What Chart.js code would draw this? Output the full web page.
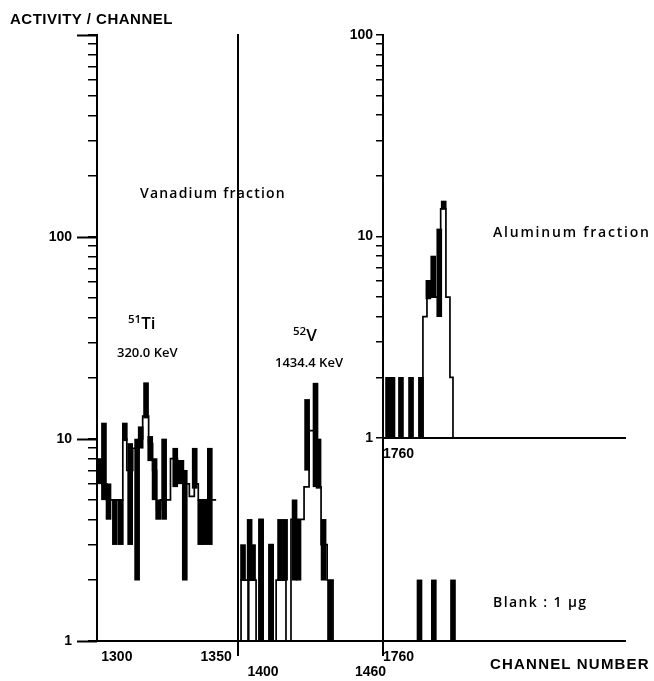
<!DOCTYPE html>
<html>
<head>
<meta charset="utf-8">
<script src="https://cdn.jsdelivr.net/npm/chart.js@4.4.0/dist/chart.umd.min.js"></script>
<style>
  body { margin: 0; width: 654px; height: 681px; background: #fff; position: relative; overflow: hidden;
         font-family: "Liberation Sans", Arial, sans-serif; color: #000; }
  canvas { position: absolute; }
  .t { position: absolute; white-space: nowrap; line-height: 1; }
  .caps { font-weight: bold; }
  .ann { font-family: "Open Sans", sans-serif; font-weight: 600; }
  sup { font-size: 0.68em; vertical-align: 0; position: relative; top: -0.55em; }
</style>
</head>
<body>
<canvas id="ti" width="240" height="681" style="left:0;top:0"></canvas>
<canvas id="va" width="220" height="681" style="left:200px;top:0"></canvas>
<canvas id="al" width="324" height="470" style="left:330px;top:0"></canvas>
<canvas id="bl" width="324" height="281" style="left:330px;top:400px"></canvas>

<div class="t caps" style="left:10px;top:11px;font-size:15px;letter-spacing:0.5px">ACTIVITY / CHANNEL</div>
<div class="t ann" style="left:140px;top:186px;font-size:14px;letter-spacing:1.2px">Vanadium fraction</div>
<div class="t ann" style="left:128px;top:314px;font-size:17px"><sup>51</sup>Ti</div>
<div class="t ann" style="left:117px;top:346px;font-size:13px">320.0 KeV</div>
<div class="t ann" style="left:293px;top:326px;font-size:17px"><sup>52</sup>V</div>
<div class="t ann" style="left:275px;top:356px;font-size:13px">1434.4 KeV</div>
<div class="t ann" style="left:493px;top:225px;font-size:14px;letter-spacing:1.8px">Aluminum fraction</div>
<div class="t ann" style="left:493px;top:595px;font-size:14px;letter-spacing:1.4px">Blank : 1 µg</div>
<div class="t caps" style="left:490px;top:656px;font-size:15px;letter-spacing:1.2px">CHANNEL NUMBER</div>

<script>
// Ti 320.0 keV region (channels 1290-1350)
var tiStepX = [1289.5, 1292.5, 1295, 1298, 1303, 1305, 1308, 1311, 1313, 1316, 1318, 1320, 1322, 1325, 1327, 1330.5, 1333.5, 1336.5, 1339, 1341, 1345.5, 1348, 1350];
var tiStepY = [7, 6, 5, 5, 10, 7, 9, 10, 13, 9.5, 7, 4.5, 5, 5, 8, 7.8, 6, 5.2, 6, 5, 5, 5, 5];
var tiBarX = [1291, 1293.5, 1295.8, 1299, 1302, 1304, 1306.7, 1310.2, 1312, 1314.7, 1316.8, 1319, 1320.8, 1323.8, 1329.4, 1332, 1334.2, 1339.2, 1342, 1344, 1346.8];
var tiBarLo = [6, 5, 4, 3, 3, 9.8, 3, 2, 9, 12.7, 7.8, 5, 4, 4, 5.8, 6, 2, 5.7, 3, 3, 3];
var tiBarHi = [8, 12, 6, 5, 5, 12, 9.5, 10, 11.5, 19, 10.3, 8, 5, 10, 9, 7.8, 7, 9, 5, 5, 9];

// V 1434.4 keV region (channels 1386-1467)
var vaStepX = [1386, 1387.7, 1391.6, 1392, 1396.1, 1397.8, 1400, 1403.4, 1405.6, 1407.3, 1412.8, 1415.6, 1422.9, 1425.7, 1429.6, 1431, 1432.4, 1435.8, 1439.1, 1467];
var vaStepY = [1, 2, 1, 2, 1, 4, 1, 3, 1, 2, 1, 4, 5.8, 11, 9.5, 5.8, 3, 2, 1, 1];
var vaBarX = [1388.8, 1392.5, 1394.4, 1398.9, 1404.5, 1409.5, 1412.3, 1417.6, 1419.8, 1424.6, 1429.3, 1431, 1433.8, 1437.4];
var vaBarLo = [2, 2, 2, 1, 1, 2, 2, 2, 2, 7, 5.8, 5.7, 2, 1];
var vaBarHi = [3, 4, 3, 4, 3, 4, 4, 5, 4, 15.7, 18.9, 10, 4, 2];

// aluminum fraction (channels from 1760)
var alStepX = [1760, 1779.8, 1781.8, 1788.6, 1791.2, 1793.2, 1794.7, 1880];
var alStepY = [1, 4, 5, 13.7, 5, 2, 1, 1];
var alBarX = [1762.5, 1764.7, 1768.9, 1773.9, 1778.8, 1782.5, 1784.9, 1787.9, 1790.1];
var alBarLo = [1, 1, 1, 1, 1, 4.9, 5, 4, 13.7];
var alBarHi = [2, 2, 2, 2, 2, 6.06, 8, 10.9, 15];

// blank, 1 µg
var blBarX = [1778.1, 1785.2, 1794.7];
var blBarLo = [1, 1, 1];
var blBarHi = [2, 2, 2];

var tickFont = { family: '"Liberation Sans", Arial, sans-serif', size: 14, weight: 'bold' };

function logTicks(lo, hi) {
  var out = [];
  for (var d = lo; d < hi; d *= 10)
    for (var k = 1; k < 10; k++) out.push(k * d);
  out.push(hi);
  return out;
}
function isDecade(v) {
  var l = Math.log10(v);
  return Math.abs(l - Math.round(l)) < 1e-9;
}

// longer marks at 1, 10, 100 ...
var majorTicks = {
  id: 'majorTicks',
  afterDraw: function (chart, args, opts) {
    if (!opts.length) return;
    var y = chart.scales.y, ctx = chart.ctx, x0 = chart.chartArea.left;
    ctx.save();
    ctx.strokeStyle = '#000';
    ctx.lineWidth = 2;
    y.ticks.forEach(function (t) {
      if (!isDecade(t.value)) return;
      var py = Math.round(y.getPixelForValue(t.value)) + 0.5;
      ctx.beginPath();
      ctx.moveTo(x0, py);
      ctx.lineTo(x0 - opts.length, py);
      ctx.stroke();
    });
    ctx.restore();
  }
};

// panel separators run a little below the channel axis
var dividers = {
  id: 'dividers',
  afterDraw: function (chart, args, opts) {
    if (!opts.drop) return;
    var a = chart.chartArea, ctx = chart.ctx;
    ctx.save();
    ctx.strokeStyle = '#000';
    ctx.lineWidth = 2;
    [a.left, a.right].forEach(function (x) {
      ctx.beginPath();
      ctx.moveTo(x, a.bottom);
      ctx.lineTo(x, a.bottom + opts.drop);
      ctx.stroke();
    });
    ctx.restore();
  }
};

function panel(id, o) {
  var datasets = [];
  if (o.stepX) {
    // each count holds until the next channel edge
    datasets.push({
      type: 'line',
      data: o.stepX.map(function (x, i) { return { x: x, y: o.stepY[i] }; }),
      stepped: 'before',
      borderColor: '#000',
      borderWidth: 1.7,
      pointRadius: 0,
      fill: false
    });
  }
  datasets.push({
    type: 'bar',
    data: o.barX.map(function (x, i) { return { x: x, y: [o.barLo[i], o.barHi[i]] }; }),
    backgroundColor: '#000',
    barThickness: 5,
    grouped: false
  });

  return new Chart(document.getElementById(id), {
    type: 'bar',
    data: { datasets: datasets },
    options: {
      responsive: false,
      animation: false,
      events: [],
      layout: { padding: o.pad },
      plugins: {
        legend: { display: false },
        tooltip: { enabled: false },
        majorTicks: { length: o.major || 0 },
        dividers: { drop: o.drop || 0 }
      },
      scales: {
        x: {
          type: 'linear', min: o.xMin, max: o.xMax, offset: false,
          grid: { display: false, offset: false },
          border: { display: true, width: 2, color: '#000' },
          afterBuildTicks: function (s) { s.ticks = o.xTicks.map(function (v) { return { value: v }; }); },
          afterFit: function (s) { s.height = o.xh; },
          ticks: {
            autoSkip: false, maxRotation: 0, padding: o.xPad, align: o.xAlign || 'center',
            color: '#000', font: tickFont,
            callback: function (v) { return String(v); }
          }
        },
        y: {
          type: 'logarithmic', min: o.yMin, max: o.yMax,
          afterBuildTicks: function (s) { s.ticks = logTicks(o.yMin, o.yMax).map(function (v) { return { value: v }; }); },
          afterFit: function (s) { s.width = o.yw; },
          border: { display: true, width: 2, color: '#000' },
          grid: { display: !!o.yTicks, drawOnChartArea: false, drawTicks: true, tickLength: o.tickLen || 8, color: '#000', lineWidth: 1.5 },
          ticks: {
            display: !!o.yLabels, autoSkip: false, padding: o.yPad || 3,
            color: '#000', font: tickFont,
            callback: function (v) { return (o.yLabels || []).indexOf(v) >= 0 ? String(v) : ''; }
          }
        }
      }
    },
    plugins: [majorTicks, dividers]
  });
}

panel('ti', {
  stepX: tiStepX, stepY: tiStepY, barX: tiBarX, barLo: tiBarLo, barHi: tiBarHi,
  xMin: 1290, xMax: 1361, xTicks: [1300, 1350], xh: 40, xPad: 0,
  yMin: 1, yMax: 1000, yw: 97, yTicks: true, tickLen: 9, yPad: 16, yLabels: [1, 10, 100], major: 20,
  pad: { top: 35, right: 2 }
});

panel('va', {
  stepX: vaStepX, stepY: vaStepY, barX: vaBarX, barLo: vaBarLo, barHi: vaBarHi,
  xMin: 1386, xMax: 1467, xTicks: [1400, 1460], xh: 40, xPad: 15,
  yMin: 1, yMax: 1000, yw: 38, drop: 15,
  pad: { top: 35, right: 37 }
});

panel('al', {
  stepX: alStepX, stepY: alStepY, barX: alBarX, barLo: alBarLo, barHi: alBarHi,
  xMin: 1760, xMax: 1880, xTicks: [1760], xh: 32, xPad: 0, xAlign: 'start',
  yMin: 1, yMax: 100, yw: 53, yTicks: true, tickLen: 7, yPad: 3, yLabels: [1, 10, 100],
  pad: { top: 35, right: 29 }
});

panel('bl', {
  barX: blBarX, barLo: blBarLo, barHi: blBarHi,
  xMin: 1760, xMax: 1880, xTicks: [1760], xh: 40, xPad: 0, xAlign: 'start',
  yMin: 1, yMax: 10, yw: 53,
  pad: { top: 38, right: 29 }
});
</script>
</body>
</html>
